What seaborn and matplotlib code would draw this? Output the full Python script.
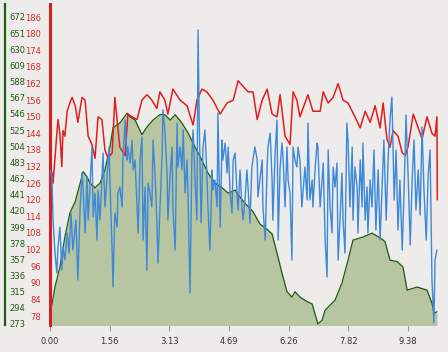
import matplotlib
matplotlib.use("Agg")
import matplotlib.pyplot as plt
import numpy as np
import pandas as pd
import seaborn as sns

# elevation profile (distance, elevation)
elev_dist = [0.00, 0.05, 0.13, 0.26, 0.39, 0.52, 0.66, 0.79, 0.87, 0.97,
             1.05, 1.18, 1.31, 1.44, 1.57, 1.65, 1.83, 2.02, 2.10, 2.23,
             2.41, 2.54, 2.70, 2.88, 3.01, 3.15, 3.28, 3.46, 3.62, 3.80,
             3.98, 4.14, 4.33, 4.51, 4.67, 4.85, 4.98, 5.11, 5.32, 5.50,
             5.69, 5.82, 5.95, 6.08, 6.21, 6.34, 6.42, 6.55, 6.74, 6.87,
             7.02, 7.13, 7.21, 7.47, 7.65, 7.81, 7.94, 8.20, 8.44, 8.65,
             8.78, 8.91, 9.10, 9.25, 9.36, 9.62, 9.88, 10.01, 10.07, 10.14]
elev = [287, 298, 321, 347, 386, 417, 432, 456, 471, 464,
        456, 450, 456, 473, 503, 528, 534, 547, 542, 538,
        519, 529, 538, 545, 545, 538, 545, 534, 521, 503,
        486, 469, 456, 450, 443, 447, 438, 430, 419, 403,
        396, 390, 365, 339, 315, 308, 315, 308, 302, 299,
        273, 278, 291, 304, 326, 356, 382, 386, 391, 385,
        380, 356, 354, 347, 317, 321, 317, 300, 287, 289]

# heart rate
hr_dist = [0.00, 0.05, 0.08, 0.18, 0.21, 0.26, 0.31, 0.34, 0.39, 0.45,
           0.52, 0.58, 0.66, 0.73, 0.84, 0.92, 1.00, 1.10, 1.18, 1.26,
           1.36, 1.44, 1.52, 1.63, 1.70, 1.83, 1.97, 2.04, 2.15, 2.28,
           2.41, 2.54, 2.67, 2.80, 2.88, 3.01, 3.09, 3.22, 3.41, 3.59,
           3.75, 3.85, 3.98, 4.11, 4.27, 4.46, 4.64, 4.80, 4.93, 5.06,
           5.19, 5.32, 5.43, 5.56, 5.69, 5.82, 5.95, 6.03, 6.16, 6.29,
           6.37, 6.47, 6.55, 6.76, 6.89, 7.08, 7.16, 7.29, 7.42, 7.55,
           7.68, 7.81, 7.99, 8.13, 8.26, 8.39, 8.52, 8.65, 8.73, 8.83,
           8.91, 8.99, 9.12, 9.23, 9.31, 9.38, 9.52, 9.65, 9.75, 9.88,
           10.01, 10.09, 10.14, 10.15]
hr = [127, 130, 126, 144, 149, 144, 132, 145, 143, 152,
      155, 157, 154, 148, 157, 156, 143, 140, 135, 150,
      149, 138, 135, 137, 157, 139, 136, 151, 150, 149,
      156, 158, 156, 153, 159, 156, 151, 160, 156, 154,
      147, 156, 160, 159, 156, 151, 155, 156, 163, 161,
      159, 159, 149, 156, 160, 151, 150, 158, 143, 140,
      159, 156, 150, 158, 152, 152, 159, 155, 157, 162,
      156, 155, 150, 146, 152, 148, 154, 146, 155, 142,
      139, 145, 143, 137, 136, 139, 151, 146, 142, 150,
      144, 143, 150, 120]

# power
pw_dist = [0.00, 0.05, 0.08, 0.13, 0.18, 0.21, 0.26, 0.31, 0.34, 0.39,
           0.45, 0.50, 0.55, 0.60, 0.68, 0.73, 0.79, 0.84, 0.86, 0.92,
           0.97, 1.00, 1.05, 1.10, 1.13, 1.18, 1.23, 1.26, 1.31, 1.39,
           1.44, 1.49, 1.55, 1.57, 1.63, 1.65, 1.70, 1.76, 1.78, 1.83,
           1.89, 1.91, 1.97, 2.02, 2.04, 2.10, 2.15, 2.18, 2.23, 2.28,
           2.31, 2.36, 2.41, 2.44, 2.49, 2.54, 2.57, 2.62, 2.67, 2.70,
           2.75, 2.80, 2.83, 2.88, 2.94, 2.96, 3.01, 3.07, 3.09, 3.15,
           3.20, 3.22, 3.28, 3.33, 3.35, 3.41, 3.46, 3.49, 3.54, 3.59,
           3.62, 3.67, 3.72, 3.75, 3.80, 3.85, 3.88, 3.91, 3.96, 4.01,
           4.06, 4.11, 4.14, 4.19, 4.25, 4.27, 4.32, 4.38, 4.40, 4.46,
           4.51, 4.53, 4.59, 4.64, 4.67, 4.72, 4.77, 4.80, 4.85, 4.90,
           4.93, 4.98, 5.03, 5.06, 5.11, 5.16, 5.19, 5.24, 5.29, 5.37,
           5.43, 5.45, 5.50, 5.56, 5.58, 5.64, 5.69, 5.71, 5.77, 5.82,
           5.84, 5.90, 5.95, 5.98, 6.03, 6.08, 6.11, 6.16, 6.21, 6.24,
           6.29, 6.34, 6.37, 6.42, 6.47, 6.50, 6.55, 6.60, 6.63, 6.68,
           6.74, 6.76, 6.81, 6.87, 6.89, 6.95, 7.00, 7.02, 7.08, 7.16,
           7.21, 7.26, 7.29, 7.34, 7.39, 7.42, 7.47, 7.52, 7.55, 7.60,
           7.65, 7.68, 7.73, 7.78, 7.81, 7.86, 7.92, 7.94, 7.99, 8.05,
           8.07, 8.13, 8.18, 8.20, 8.26, 8.31, 8.33, 8.39, 8.44, 8.49,
           8.54, 8.60, 8.65, 8.70, 8.75, 8.81, 8.86, 8.91, 8.96, 9.02,
           9.07, 9.12, 9.17, 9.23, 9.28, 9.33, 9.38, 9.44, 9.49, 9.54,
           9.59, 9.65, 9.70, 9.75, 9.80, 9.86, 9.91, 9.96, 10.01, 10.06,
           10.09, 10.14]
power = [155, 148, 105, 72, 52, 78, 98, 55, 78, 65,
         92, 72, 112, 75, 105, 45, 118, 152, 142, 92,
         148, 105, 142, 178, 108, 132, 85, 135, 105, 172,
         118, 145, 178, 145, 72, 38, 112, 98, 132, 138,
         118, 165, 205, 165, 178, 162, 185, 155, 165, 118,
         92, 165, 188, 85, 138, 55, 142, 132, 118, 185,
         152, 105, 62, 115, 172, 215, 195, 148, 105, 152,
         178, 118, 75, 202, 158, 178, 155, 195, 132, 165,
         122, 32, 172, 195, 145, 105, 295, 205, 102, 178,
         195, 152, 118, 75, 155, 135, 145, 118, 212, 98,
         185, 165, 182, 152, 178, 132, 112, 165, 172, 132,
         115, 155, 118, 105, 125, 155, 138, 102, 158, 178,
         165, 128, 145, 165, 118, 85, 158, 178, 192, 145,
         105, 172, 205, 85, 158, 182, 165, 118, 178, 145,
         132, 65, 178, 165, 158, 178, 165, 118, 132, 158,
         125, 202, 125, 145, 118, 158, 182, 178, 118, 162,
         85, 48, 175, 118, 92, 158, 138, 162, 65, 105,
         152, 105, 72, 202, 185, 118, 178, 105, 158, 138,
         92, 165, 118, 182, 105, 138, 92, 145, 118, 175,
         95, 155, 85, 135, 185, 105, 165, 205, 228, 125,
         175, 95, 145, 75, 135, 210, 155, 80, 145, 185,
         115, 155, 110, 198, 135, 85, 150, 175, 45, 2,
         65, 75]

elev_ticks = [273, 294, 315, 336, 357, 378, 399, 420, 441, 462,
              483, 504, 525, 546, 567, 588, 609, 630, 651, 672]
hr_ticks = [78, 84, 90, 96, 102, 108, 114, 120, 126, 132,
            138, 144, 150, 156, 162, 168, 174, 180, 186]
xtick_labels = ["0.00", "1.56", "3.13", "4.69", "6.26", "7.82", "9.38"]

elev_df = pd.DataFrame({"dist": elev_dist, "elev": elev})
hr_df = pd.DataFrame({"dist": hr_dist, "hr": hr})
pw_df = pd.DataFrame({"dist": pw_dist, "power": power})

sns.set_theme(style="white")
plt.rcParams["font.family"] = ["DejaVu Sans"]

bg = "#EEECEA"
green = "#1E5A14"
red = "#E01E1E"
blue = "#3C88DA"

fig = plt.figure(figsize=(4.48, 3.52), dpi=100, facecolor=bg)
ax = fig.add_axes([50 / 448, 1 - 325 / 352, 398 / 448, 321 / 352])
ax.set_facecolor(bg)

# elevation area
ax.fill_between(elev_df["dist"], elev_df["elev"], 200, color="#B7C5A0", lw=0)
sns.lineplot(data=elev_df, x="dist", y="elev", ax=ax, color=green, lw=0.9,
             estimator=None, sort=False)

# heart rate
ax_hr = ax.twinx()
sns.lineplot(data=hr_df, x="dist", y="hr", ax=ax_hr, color=red, lw=1.1,
             estimator=None, sort=False)

# power
ax_pw = ax.twinx()
sns.lineplot(data=pw_df, x="dist", y="power", ax=ax_pw, color=blue, lw=1.0,
             estimator=None, sort=False)

ax.set_xlim(0, 10.43)
ax.set_ylim(271.7, 688.8)
ax_hr.set_ylim(74.75, 190.76)
ax_pw.set_ylim(0, 321)

for a in (ax, ax_hr, ax_pw):
    a.set_xlabel("")
    a.set_ylabel("")
    for s in a.spines.values():
        s.set_visible(False)

# x axis
ax.set_xticks([float(t) for t in xtick_labels], labels=xtick_labels)
ax.tick_params(axis="x", bottom=True, direction="out", length=4, width=0.8,
               color="#9A9A9A", labelcolor="#333333", labelsize=6, pad=5)

# green elevation axis, far left with labels right of the line
ax.spines["left"].set_visible(True)
ax.spines["left"].set_position(("outward", 32.4))
ax.spines["left"].set_color(green)
ax.spines["left"].set_linewidth(1.6)
ax.set_yticks(elev_ticks)
ax.tick_params(axis="y", left=True, length=0, pad=-3, labelsize=6, labelcolor=green)
for lbl in ax.get_yticklabels():
    lbl.set_horizontalalignment("left")

# red heart-rate axis
ax_hr.yaxis.tick_left()
ax_hr.spines["left"].set_visible(True)
ax_hr.spines["left"].set_color("#D81E1E")
ax_hr.spines["left"].set_linewidth(2.2)
ax_hr.set_yticks(hr_ticks)
ax_hr.tick_params(axis="y", length=0, pad=6.5, labelsize=6, labelcolor="#D42A2A")

ax_pw.set_yticks([])

fig.savefig("out.png", dpi=100, facecolor=bg)
